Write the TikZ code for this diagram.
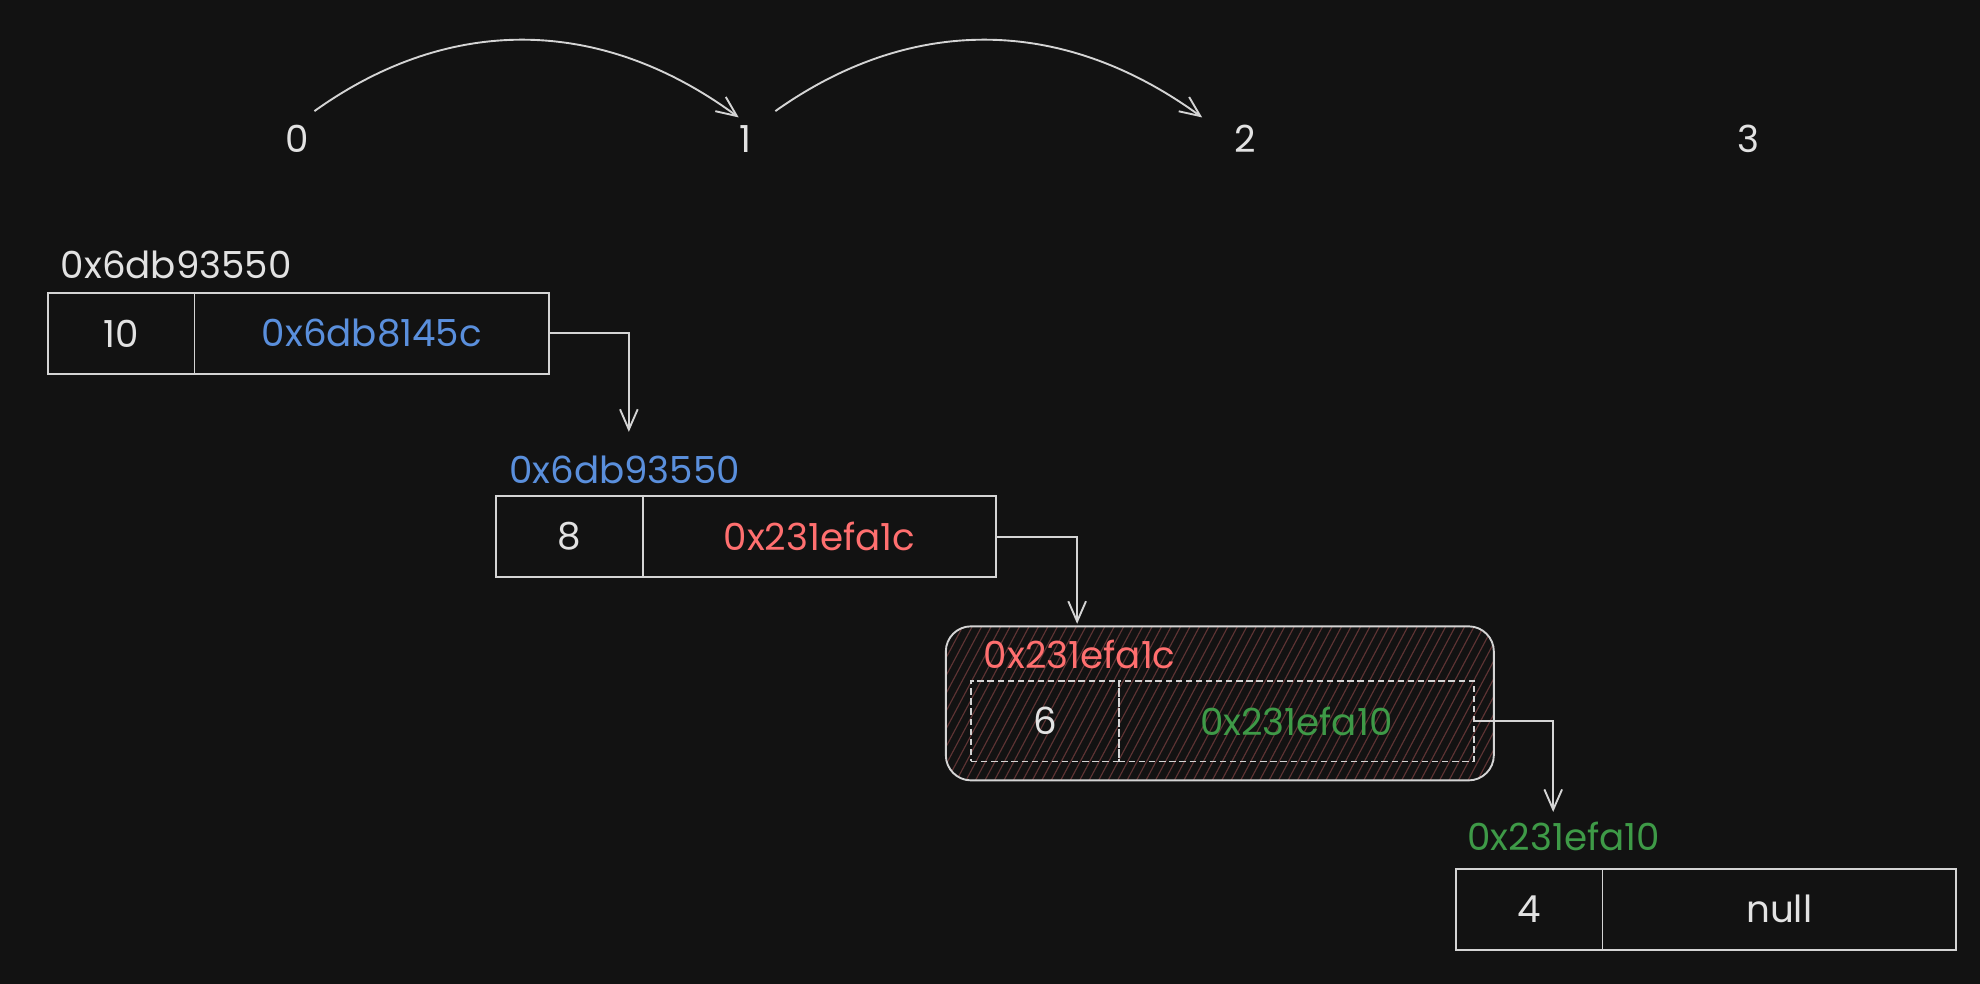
\documentclass[tikz,border=0pt]{standalone}
\usepackage{fontspec}
\setmainfont{Poppins}
\usetikzlibrary{arrows.meta}
\definecolor{bg}{HTML}{121212}
\definecolor{fg}{HTML}{E2E2E2}
\definecolor{stroke}{HTML}{D4D4D4}
\definecolor{cblue}{HTML}{5A8FDC}
\definecolor{cred}{HTML}{FF6F6F}
\definecolor{cgreen}{HTML}{3E9A47}
\definecolor{hatchc}{HTML}{5E3434}
\begin{document}
\begin{tikzpicture}[x=1pt,y=-1pt,
  txt/.style={font=\fontsize{29.5}{34}\selectfont, inner sep=0pt},
  cell/.style={txt, draw=stroke, line width=1.5pt, minimum height=64pt, text=fg},
  dcell/.style={cell, dash pattern=on 5pt off 3pt},
  lbl/.style={txt, anchor=west},
  idx/.style={txt, text=fg},
  conn/.style={draw=stroke, line width=1.5pt, -{Straight Barb[length=16pt,width=14pt]}},
  hatch/.style={draw=hatchc, line width=0.9pt},
  group/.style={draw=stroke, line width=1.5pt, rounded corners=20pt, minimum width=434pt, minimum height=122pt, inner sep=0pt}
]
\fill[bg] (0,0) rectangle (1568,779);
\useasboundingbox (0,0) rectangle (1568,779);

% index labels
\node[idx] (i0) at (235,110) {0};
\node[idx] (i1) at (590,110) {1};
\node[idx] (i2) at (986,110) {2};
\node[idx] (i3) at (1385,110) {3};
\coordinate (s1) at (249,88);
\coordinate (e1) at (585,93);
\coordinate (s2) at (614,88);
\coordinate (e2) at (952,93);
\draw[conn] (s1) .. controls (355,12) and (475,12) .. (e1);
\draw[conn] (s2) .. controls (721,12) and (841,12) .. (e2);

% node 1
\node[lbl, text=fg] (l1) at (48,210) {0x6db93550};
\node[cell, minimum width=116pt] (v1) at (96,264) {10};
\node[cell, minimum width=281pt, text=cblue] (p1) at (294.5,264) {0x6db8145c};

% node 2
\node[lbl, text=cblue] (l2) at (403,372) {0x6db93550};
\node[cell, minimum width=116pt] (v2) at (451,425) {8};
\node[cell, minimum width=280pt, text=cred] (p2) at (649,425) {0x231efa1c};

% node 3 (highlighted group)
\begin{scope}
  \clip[rounded corners=20pt] (749,496) rectangle (1183,618);
  \foreach \i in {660,667.5,...,1190} \draw[hatch] (\i,618) -- ++(65,-122);
\end{scope}
\node[group] (g) at (966,557) {};
\node[lbl, text=cred] (l3) at (779,518) {0x231efa1c};
\node[dcell, minimum width=117pt] (v3) at (827.5,571) {6};
\node[dcell, minimum width=281pt, text=cgreen] (p3) at (1026.5,571) {0x231efa10};

% node 4
\node[lbl, text=cgreen] (l4) at (1162,662) {0x231efa10};
\node[cell, minimum width=116pt] (v4) at (1211,720) {4};
\node[cell, minimum width=280pt] (p4) at (1409,720) {null};

% connectors
\coordinate (t1) at (498,342);
\coordinate (t2) at (853,494);
\coordinate (t3) at (1230,643);
\draw[conn] (p1.east) -| (t1);
\draw[conn] (p2.east) -| (t2);
\draw[conn] (p3.east) -| (t3);
\end{tikzpicture}
\end{document}
